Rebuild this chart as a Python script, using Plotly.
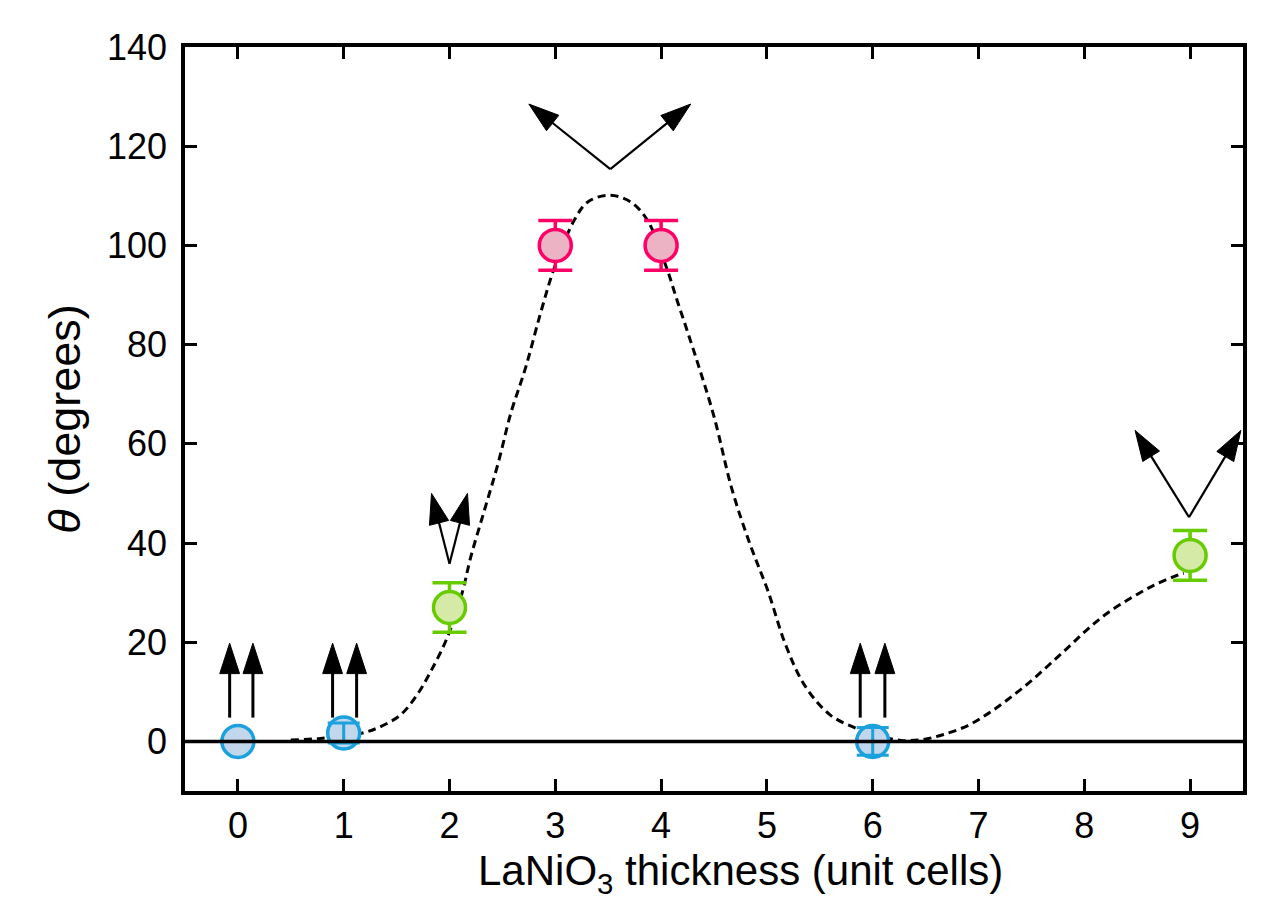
import plotly.graph_objects as go

# ---- data ----
blue_x = [0, 1, 6]
blue_y = [0, 1.7, 0]
blue_err = [0, 2, 2.8]

green_x = [2, 9]
green_y = [27, 37.5]
green_err = [5, 5]

pink_x = [3, 4]
pink_y = [100, 100]
pink_err = [5, 5]

fit_x = [0.5, 0.78, 1.16, 1.35, 1.54, 1.70, 1.82, 1.98, 2.12, 2.20, 2.33, 2.46, 2.58, 2.72, 2.86,
         2.99, 3.18, 3.31, 3.51, 3.71, 3.87, 4.05, 4.15, 4.32, 4.50, 4.67, 4.84, 5.01, 5.18,
         5.36, 5.60, 5.87, 6.01, 6.27, 6.48, 6.67, 6.90, 7.09, 7.28, 7.47, 7.66, 7.85, 8.03,
         8.22, 8.44, 8.66, 8.88, 8.94]
fit_y = [0.3, 0.6, 1.6, 3.0, 5.4, 9.6, 14.0, 21.0, 30.0, 37.1, 46.6, 56.1, 66.2, 75.4, 86.3,
         95.4, 105.1, 108.8, 110.1, 108.8, 105.1, 95.6, 89.0, 78.0, 65.5, 50.8, 39.8, 30.3, 19.3,
         11.2, 5.3, 2.4, 1.3, 0.2, 0.4, 1.4, 3.2, 5.6, 8.5, 11.7, 15.3, 19.0, 22.6,
         25.9, 28.9, 31.5, 33.5, 33.9]

# spin arrows (tail -> tip)
up_tail_x = [-0.078, 0.142, 0.895, 1.122, 5.882, 6.115]
up_tail_y = [4.8, 4.8, 4.8, 4.8, 4.8, 4.8]
up_tip_y = [19.8, 19.8, 19.8, 19.8, 19.8, 19.8]

tilt_tail_x = [2.0, 2.0, 3.52, 3.52, 8.99, 8.99]
tilt_tail_y = [35.8, 35.8, 115.4, 115.4, 45.2, 45.2]
tilt_tip_x = [1.83, 2.17, 2.75, 4.28, 8.48, 9.48]
tilt_tip_y = [50.0, 50.0, 128.5, 128.5, 62.7, 62.7]

x_ticks = list(range(0, 10))
y_ticks = list(range(0, 141, 20))

x_title = "LaNiO<sub>3</sub> thickness (unit cells)"
y_title = "<i>θ</i> (degrees)"

FONT = "Liberation Sans, Arial, sans-serif"

fig = go.Figure()

# dashed fit curve
fig.add_trace(go.Scatter(x=fit_x, y=fit_y, mode="lines",
                         line=dict(color="black", width=3, dash="8px,5px", shape="spline", smoothing=1.0),
                         hoverinfo="skip", showlegend=False))

def add_points(xs, ys, errs, edge, fill):
    fig.add_trace(go.Scatter(
        x=xs, y=ys, mode="markers",
        marker=dict(size=32, color=fill, line=dict(color=edge, width=3.5)),
        error_y=dict(type="data", array=errs, visible=True, color=edge, thickness=3.5, width=17),
        showlegend=False))

add_points(green_x, green_y, green_err, "#66CC00", "#D6EAA8")
add_points(pink_x, pink_y, pink_err, "#FF0066", "#EBB3C4")
add_points(blue_x, blue_y, [0, 0, 0], "#1BA1DD", "#C3D7EC")
# blue error bars appear on top of markers
fig.add_trace(go.Scatter(
    x=blue_x, y=blue_y, mode="markers",
    marker=dict(size=1, color="rgba(0,0,0,0)"),
    error_y=dict(type="data", array=blue_err, visible=True, color="#1BA1DD", thickness=3, width=16),
    showlegend=False, hoverinfo="skip"))

# arrows
def add_arrow(x0, y0, x1, y1, w):
    fig.add_trace(go.Scatter(
        x=[x0, x1], y=[y0, y1], mode="lines+markers",
        line=dict(color="black", width=w),
        marker=dict(symbol=["circle", "arrow"], size=[0, 32], color="black", opacity=1,
                    angleref="previous", line=dict(width=1, color="black")),
        opacity=1, cliponaxis=False, showlegend=False, hoverinfo="skip"))

for i in range(len(up_tail_x)):
    add_arrow(up_tail_x[i], up_tail_y[i], up_tail_x[i], up_tip_y[i], 3)
for i in range(len(tilt_tail_x)):
    add_arrow(tilt_tail_x[i], tilt_tail_y[i], tilt_tip_x[i], tilt_tip_y[i], 2.2)

# zero line on top
fig.add_shape(type="line", xref="paper", x0=0, x1=1, yref="y", y0=0, y1=0,
              line=dict(color="black", width=3.5), layer="above")

axis_common = dict(
    showline=True, linecolor="black", linewidth=3.5, mirror="allticks",
    ticks="inside", ticklen=12, tickwidth=2.5, tickcolor="black",
    showgrid=False, zeroline=False, automargin=False,
    tickfont=dict(family=FONT, size=36, color="black"),
)

fig.update_xaxes(range=[-0.5, 9.5], tickvals=x_ticks, ticktext=[str(v) for v in x_ticks],
                 ticklabelstandoff=0, **axis_common)
fig.update_yaxes(range=[-10, 140], tickvals=y_ticks, ticktext=[str(v) for v in y_ticks],
                 ticklabelstandoff=7,
                 title=dict(text=y_title,
                            font=dict(family=FONT, size=45, color="black"), standoff=13),
                 **axis_common)

# x-axis title (slightly right of centre, as in the reference)
fig.add_annotation(text=x_title, xref="paper", yref="paper", x=0.5255, y=-0.072,
                   xanchor="center", yanchor="top", showarrow=False,
                   font=dict(family=FONT, size=42, color="black"))

fig.update_layout(
    width=1287, height=901,
    margin=dict(l=185, r=44, t=47, b=110),
    plot_bgcolor="white", paper_bgcolor="white",
    showlegend=False,
)

fig.write_html("out.html")
